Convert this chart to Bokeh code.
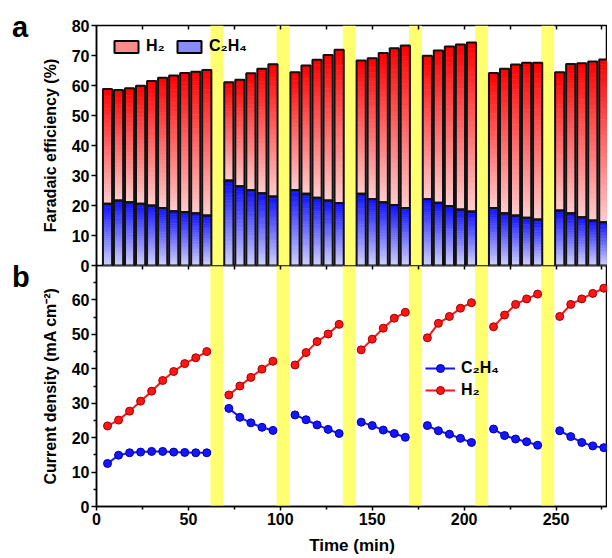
import numpy as np
from bokeh.plotting import figure
from bokeh.models import (ColumnDataSource, Range1d, LinearAxis, FixedTicker, Legend,
                          LegendItem, CustomJSTickFormatter, Div)
from bokeh.layouts import column
from bokeh.embed import file_html
from bokeh.resources import INLINE

# ---------------- data ----------------
time_min = [6, 12, 18, 24, 30, 36, 42, 48, 54, 60,
            72, 78, 84, 90, 96,
            108, 114, 120, 126, 132,
            144, 150, 156, 162, 168,
            180, 186, 192, 198, 204,
            216, 222, 228, 234, 240,
            252, 258, 264, 270, 276]

fe_total = [58.8, 58.5, 59.1, 59.9, 61.5, 62.6, 63.3, 64.2, 64.6, 65.2,
            61.1, 61.9, 64.1, 65.6, 67.1,
            64.4, 66.7, 68.6, 70.2, 71.9,
            68.3, 69.1, 70.8, 72.4, 73.3,
            69.9, 71.7, 73.0, 73.7, 74.3,
            64.2, 65.6, 67.0, 67.6, 67.6,
            64.4, 67.2, 67.4, 68.0, 68.7]

fe_c2h4 = [20.6, 21.7, 21.1, 20.6, 20.0, 19.2, 18.1, 17.8, 17.4, 16.7,
           28.3, 26.4, 25.2, 24.1, 23.0,
           25.2, 23.9, 22.6, 21.7, 20.8,
           23.9, 22.2, 21.1, 20.2, 19.2,
           22.2, 20.9, 19.8, 18.7, 18.0,
           19.2, 17.4, 16.7, 15.9, 15.3,
           18.3, 17.4, 16.1, 15.0, 14.4]

j_h2 = [23.4, 25.1, 27.7, 30.6, 33.5, 36.6, 39.2, 41.5, 43.2, 45.0,
        32.4, 35.0, 37.5, 39.9, 42.2,
        41.1, 44.7, 47.9, 50.1, 52.9,
        45.5, 48.6, 51.8, 54.7, 56.4,
        49.0, 53.2, 55.2, 57.6, 59.2,
        52.2, 55.6, 58.7, 60.3, 61.7,
        55.2, 58.7, 60.3, 61.9, 63.4]

j_c2h4 = [12.5, 14.9, 15.6, 15.8, 16.0, 16.0, 15.8, 15.7, 15.6, 15.6,
          28.5, 25.9, 24.3, 23.0, 22.1,
          26.6, 25.2, 23.7, 22.4, 21.2,
          24.5, 23.5, 22.2, 21.2, 20.1,
          23.5, 22.0, 21.0, 19.8, 18.6,
          22.5, 20.6, 19.6, 18.8, 17.8,
          22.0, 20.3, 18.6, 17.6, 17.1]

band_start = [62, 98, 134, 170, 206, 242]
band_end = [69, 105, 141, 177, 213, 249]

fe_yticks = [0, 10, 20, 30, 40, 50, 60, 70, 80]
j_yticks = [0, 10, 20, 30, 40, 50, 60]
j_yminor = [5, 15, 25, 35, 45, 55, 65]
x_ticks = [0, 50, 100, 150, 200, 250]
x_minor = [25, 75, 125, 175, 225, 275]
top_ticks = [25, 50, 75, 100, 125, 150, 175, 200, 225, 250, 275]

label_h2 = "H\u2082"
label_c2h4 = "C\u2082H\u2084"
panel_letters = ["a", "b"]

# ---------------- style ----------------
FONT = "Liberation Sans"
BAND = "#ffff70"
X0, X1 = 0, 278
J_TOP = 70
W = 607
LEFT = 96
BAR_W = 5.0
NSL = 30
NAN = float("nan")


def style_axis(ax, size="16px"):
    ax.axis_line_width = 1.5
    ax.axis_line_color = "black"
    ax.major_tick_line_width = 1.5
    ax.minor_tick_line_width = 1.5
    ax.major_tick_line_color = "black"
    ax.minor_tick_line_color = "black"
    ax.major_tick_in = 0
    ax.major_tick_out = 5
    ax.minor_tick_in = 0
    ax.minor_tick_out = 3
    ax.major_label_text_font = FONT
    ax.major_label_text_font_style = "bold"
    ax.major_label_text_font_size = size
    ax.major_label_text_color = "black"
    ax.major_label_standoff = 2
    ax.axis_label_text_font = FONT
    ax.axis_label_text_font_style = "bold"
    ax.axis_label_text_font_size = "16px"
    ax.axis_label_text_color = "black"


def add_top_ticks(p):
    ax = LinearAxis(ticker=FixedTicker(ticks=top_ticks),
                    formatter=CustomJSTickFormatter(code="return ''"))
    ax.axis_line_color = None
    ax.major_tick_in = 4
    ax.major_tick_out = 0
    ax.minor_tick_in = 0
    ax.minor_tick_out = 0
    ax.major_tick_line_width = 1.5
    ax.major_tick_line_color = "black"
    ax.major_label_standoff = 0
    ax.major_label_text_font_size = "0px"
    p.add_layout(ax, "above")


def add_bands(p, ymax):
    src = ColumnDataSource(dict(left=band_start, right=band_end,
                                bottom=[0] * len(band_start), top=[ymax] * len(band_start)))
    p.quad(left="left", right="right", bottom="bottom", top="top", source=src,
           fill_color=BAND, line_color=None, level="underlay")


def nan_quad(p, **kw):
    src = ColumnDataSource(dict(left=[NAN], right=[NAN], bottom=[NAN], top=[NAN]))
    return p.quad(left="left", right="right", bottom="bottom", top="top", source=src, **kw)


# ---------------- panel a ----------------
p1 = figure(width=W, height=275, x_range=Range1d(X0, X1), y_range=Range1d(0, 80),
            output_backend="svg", toolbar_location=None,
            min_border_left=LEFT, min_border_right=0, min_border_top=25, min_border_bottom=10,
            x_axis_location=None, y_axis_location=None,
            styles={"position": "relative", "z-index": "2"})
p1.grid.visible = False
p1.outline_line_color = "black"
p1.outline_line_width = 1.5
p1.border_fill_alpha = 0
add_bands(p1, 80)

t = np.array(time_min, dtype=float)
c = np.array(fe_c2h4, dtype=float)
tot = np.array(fe_total, dtype=float)

sl = dict(left=[], right=[], bottom=[], top=[], color=[])
for i in range(len(t)):
    for seg_lo, seg_hi, kind in ((0.0, c[i], "b"), (c[i], tot[i], "r")):
        h = (seg_hi - seg_lo) / NSL
        for k in range(NSL):
            s = (k + 0.5) / NSL  # 0 bottom -> 1 top
            if kind == "r":
                g = int(round(205 * (1 - s)))
                col = "#%02x%02x%02x" % (255, g, g)
            else:
                g = int(round(15 + 195 * (1 - s)))
                col = "#%02x%02x%02x" % (g, g, 255)
            sl["left"].append(t[i] - BAR_W / 2)
            sl["right"].append(t[i] + BAR_W / 2)
            sl["bottom"].append(seg_lo + k * h)
            sl["top"].append(seg_lo + (k + 1) * h)
            sl["color"].append(col)
p1.quad(left="left", right="right", bottom="bottom", top="top", source=ColumnDataSource(sl),
        fill_color="color", line_color="color", line_width=0.6)

outline_src = ColumnDataSource(dict(
    left=list(t - BAR_W / 2) * 2, right=list(t + BAR_W / 2) * 2,
    bottom=[0.0] * len(t) + list(c), top=list(c) + list(tot)))
p1.quad(left="left", right="right", bottom="bottom", top="top", source=outline_src,
        fill_color=None, line_color="#111111", line_width=2)

leg_h2 = nan_quad(p1, fill_color="#ff8a8a", line_color="black", line_width=2)
leg_c = nan_quad(p1, fill_color="#8a8aff", line_color="black", line_width=2)
leg1 = Legend(items=[LegendItem(label=label_h2, renderers=[leg_h2]),
                     LegendItem(label=label_c2h4, renderers=[leg_c])],
              orientation="horizontal", location=(15, 209),
              glyph_width=30, glyph_height=15, label_standoff=5, spacing=8,
              padding=0, margin=0, border_line_color=None, background_fill_alpha=0,
              label_text_font=FONT, label_text_font_style="bold", label_text_font_size="16px",
              label_text_color="black", label_height=20)
p1.add_layout(leg1, "center")

ya = LinearAxis(ticker=FixedTicker(ticks=fe_yticks), axis_label="Faradaic efficiency (%)")
style_axis(ya)
ya.axis_label_standoff = 10
p1.add_layout(ya, "left")
add_top_ticks(p1)

# ---------------- panel b ----------------
p2 = figure(width=W, height=293, x_range=p1.x_range, y_range=Range1d(0, J_TOP),
            output_backend="svg", toolbar_location=None,
            min_border_left=LEFT, min_border_right=0, min_border_top=0, min_border_bottom=52,
            x_axis_location=None, y_axis_location=None, margin=(-10, 0, 0, 0))
p2.grid.visible = False
p2.outline_line_color = "black"
p2.outline_line_width = 1.5
p2.border_fill_alpha = 0
add_bands(p2, J_TOP)

tt = np.array(time_min)
breaks = np.where(np.diff(tt) > 6)[0] + 1
segs = np.split(np.arange(len(tt)), breaks)
jh = np.array(j_h2)
jc = np.array(j_c2h4)

first = {}
for n, idx in enumerate(segs):
    for name, arr, col, edge in (("c", jc, "#1515ff", "#0000a0"), ("h", jh, "#ff1515", "#a00000")):
        src = ColumnDataSource(dict(x=tt[idx], y=arr[idx]))
        ln = p2.line("x", "y", source=src, line_color=col, line_width=2)
        sc = p2.scatter("x", "y", source=src, size=8, fill_color=col, line_color=edge,
                        line_width=1)
        if n == 0:
            first[name] = [ln, sc]

leg2 = Legend(items=[LegendItem(label=label_c2h4, renderers=first["c"]),
                     LegendItem(label=label_h2, renderers=first["h"])],
              location=(329, 106), glyph_width=30, glyph_height=20, label_standoff=6,
              spacing=2, padding=0, margin=0, border_line_color=None,
              background_fill_alpha=0, label_text_font=FONT, label_text_font_style="bold",
              label_text_font_size="16px", label_text_color="black", label_height=20)
p2.add_layout(leg2, "center")

xb = LinearAxis(ticker=FixedTicker(ticks=x_ticks, minor_ticks=x_minor), axis_label="Time (min)")
style_axis(xb)
xb.major_tick_out = 4
xb.axis_label_standoff = 8
xb.axis_label_text_font_size = "17px"
p2.add_layout(xb, "below")

yb = LinearAxis(ticker=FixedTicker(ticks=j_yticks, minor_ticks=j_yminor),
                axis_label="Current density (mA cm\u207b\u00b2)")
style_axis(yb)
yb.axis_label_standoff = 10
p2.add_layout(yb, "left")
add_top_ticks(p2)

# panel letters: one narrow HTML block in the left margin
letters_html = ('<div style="height:250px">%s</div><div>%s</div>' % tuple(panel_letters))
div_letters = Div(text=letters_html, width=30, height=300, margin=(13, 0, -313, 12),
                  styles={"font-size": "29px", "font-weight": "bold", "font-family": FONT,
                          "line-height": "29px", "color": "black",
                          "background": "transparent", "overflow": "visible"})

layout = column(div_letters, p1, p2, spacing=0)
open("out.html", "w").write(file_html(layout, INLINE))
